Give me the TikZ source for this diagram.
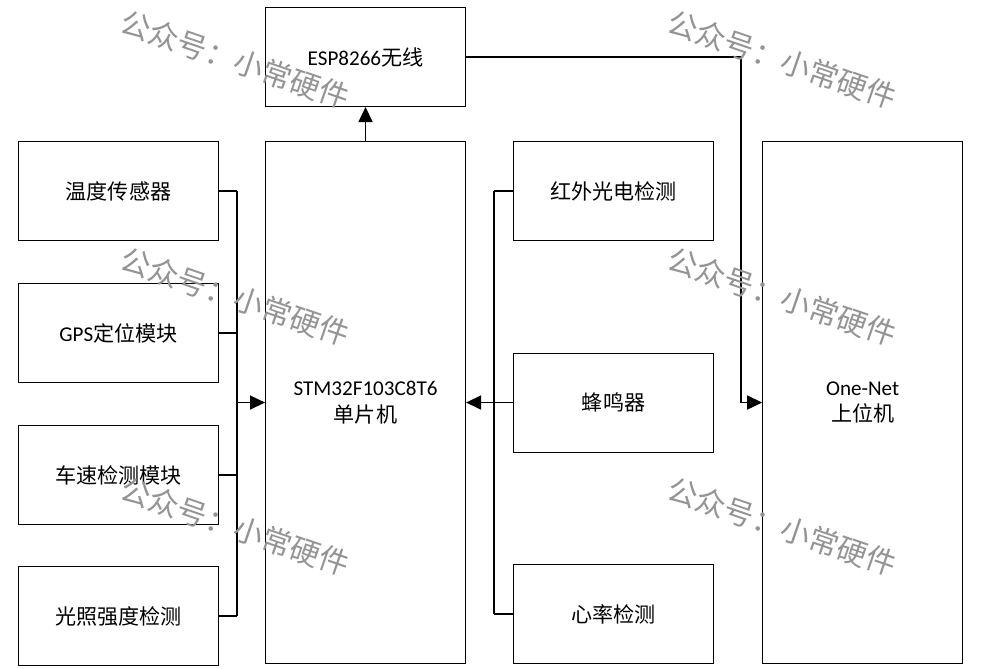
\documentclass[tikz,border=0pt]{standalone}
\usepackage{fontspec}
\setmainfont{Carlito}
\newfontfamily\cjk{Noto Sans CJK SC}
\usepackage{tikz}
\usetikzlibrary{arrows.meta, positioning, calc}

\begin{document}
\begin{tikzpicture}[
  box/.style={draw, line width=0.6pt, minimum width=4cm, minimum height=1.98cm, text centered, align=center, font=\fontsize{12}{15}\selectfont},
  tall/.style={box, minimum height=10.44cm},
  wire/.style={line width=0.9pt},
  arrow/.style={wire, -{Triangle[length=3mm, width=2.8mm]}},
  wmark/.style={text=black!42, rotate=-19, font=\cjk\fontsize{17}{17}\selectfont},
]
\useasboundingbox (0,0) rectangle (19.64,-13.36);

%% MCU and wireless module
\node[tall, anchor=north west] (mcu) at (5.3,-2.82) {STM32F103C8T6\\{\cjk 单片机}};
\node[box, above=0.68cm of mcu] (esp) {ESP8266{\cjk 无线}};

%% Sensors on the left
\node[box, anchor=north west] (temp) at (0.36,-2.82) {\cjk 温度传感器};
\node[box, below=0.84cm of temp] (gps) {GPS{\cjk 定位模块}};
\node[box, below=0.84cm of gps] (speed) {\cjk 车速检测模块};
\node[box, below=0.82cm of speed] (light) {\cjk 光照强度检测};

%% Modules on the right
\node[box, right=0.94cm of mcu.north east, anchor=north west] (ir) {\cjk 红外光电检测};
\node[box, right=0.94cm of mcu] (buzzer) {\cjk 蜂鸣器};
\node[box, right=0.94cm of mcu.south east, anchor=south west] (heart) {\cjk 心率检测};

%% Host
\node[tall, right=0.96cm of ir.north east, anchor=north west] (onenet) {One-Net\\{\cjk 上位机}};

%% Left bus
\coordinate (lbus) at (4.74,0);
\foreach \n in {temp,gps,speed,light}
  \draw[wire] (\n.east) -- (\n.east -| lbus);
\draw[wire] (temp.east -| lbus) -- (light.east -| lbus);
\draw[arrow] (mcu.west -| lbus) -- (mcu.west);

%% Right bus
\coordinate (rbus) at (9.88,0);
\foreach \n in {ir,buzzer,heart}
  \draw[wire] (\n.west) -- (\n.west -| rbus);
\draw[wire] (ir.west -| rbus) -- (heart.west -| rbus);
\draw[arrow] (mcu.east -| rbus) -- (mcu.east);

%% Wireless link
\draw[arrow] (mcu.north) -- (esp.south);
\coordinate (net) at (14.82,0);
\draw[arrow] (esp.east) -| (net |- onenet.west) -- (onenet.west);

%% Watermarks
\foreach \x/\y [count=\i] in {4.7/-1.2, 4.7/-5.94, 4.7/-10.54, 15.64/-1.2, 15.64/-5.94, 15.64/-10.54}
  \node[wmark] (wm\i) at (\x,\y) {公众号：小常硬件};

\end{tikzpicture}
\end{document}
